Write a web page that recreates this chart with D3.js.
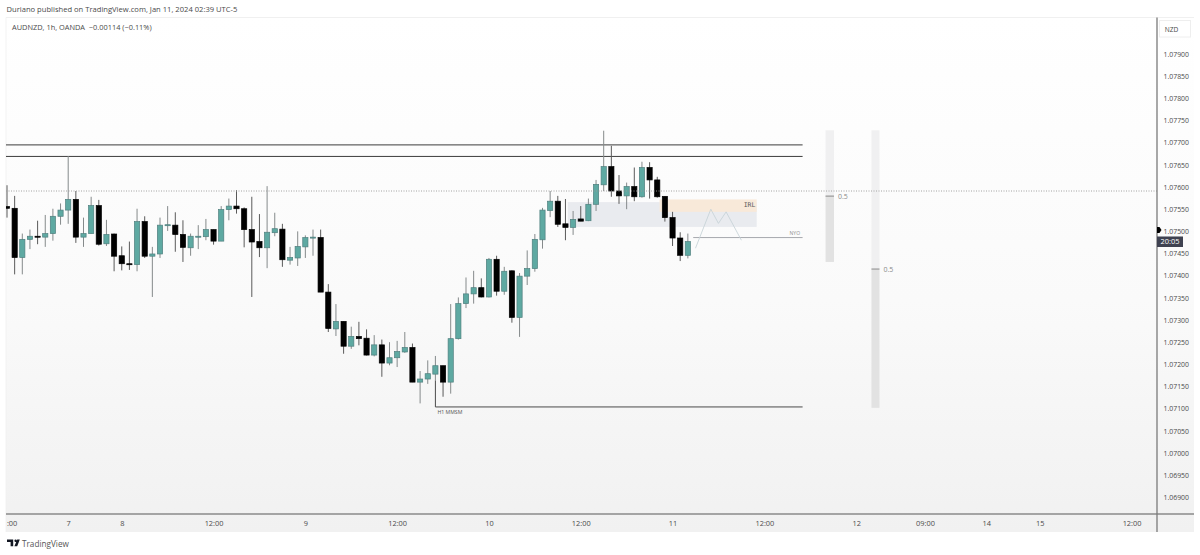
<!DOCTYPE html>
<html>
<head>
<meta charset="utf-8">
<script src="https://d3js.org/d3.v7.min.js"></script>
<style>
	html, body { margin: 0; padding: 0; background: #fff; }
	svg { display: block; }
	text { font-family: "Open Sans", sans-serif; fill: #4a4a4a; white-space: pre; }
	.axis path, .axis line { display: none; }
</style>
</head>
<body>
<div id="chart"></div>
<script>
// AUDNZD 1h candles
const opens = [
	1.07556,1.07552,1.07441,1.07482,1.07489,1.07487,1.07495,1.07534,1.07548,1.07572,
	1.07487,1.07495,1.07558,1.07472,1.07494,1.07445,1.07427,1.07425,1.07522,1.07444,
	1.07449,1.07514,1.07514,1.07493,1.07463,1.07488,1.07488,1.07504,1.07478,1.07549,
	1.07557,1.07551,1.07504,1.07477,1.07463,1.07497,1.07505,1.07435,1.07440,1.07465,
	1.07486,1.07486,1.07363,1.07280,1.07297,1.07241,1.07263,1.07259,1.07221,1.07244,
	1.07203,1.07215,1.07228,1.07238,1.07160,1.07167,1.07178,1.07197,1.07160,1.07258,
	1.07337,1.07359,1.07373,1.07352,1.07437,1.07365,1.07411,1.07306,1.07399,1.07416,
	1.07481,1.07547,1.07568,1.07517,1.07509,1.07528,1.07524,1.07561,1.07605,1.07646,
	1.07591,1.07580,1.07601,1.07578,1.07644,1.07616,1.07579,1.07531,1.07485,1.07446
]
const closes = [
	1.07552,1.07441,1.07482,1.07489,1.07487,1.07495,1.07534,1.07548,1.07572,1.07487,
	1.07495,1.07558,1.07471,1.07493,1.07444,1.07427,1.07425,1.07522,1.07444,1.07449,
	1.07514,1.07515,1.07493,1.07464,1.07489,1.07489,1.07504,1.07478,1.07549,1.07557,
	1.07551,1.07504,1.07476,1.07463,1.07498,1.07506,1.07436,1.07441,1.07466,1.07486,
	1.07487,1.07363,1.07281,1.07297,1.07241,1.07263,1.07258,1.07221,1.07244,1.07203,
	1.07215,1.07229,1.07238,1.07160,1.07167,1.07179,1.07197,1.07160,1.07258,1.07337,
	1.07359,1.07373,1.07352,1.07437,1.07365,1.07410,1.07306,1.07399,1.07416,1.07482,
	1.07548,1.07568,1.07516,1.07509,1.07527,1.07523,1.07561,1.07606,1.07646,1.07591,
	1.07580,1.07601,1.07578,1.07644,1.07616,1.07578,1.07531,1.07485,1.07446,1.07477
]
const highs = [
	1.07604,1.07580,1.07495,1.07504,1.07524,1.07537,1.07551,1.07563,1.07670,1.07591,
	1.07531,1.07578,1.07571,1.07526,1.07495,1.07466,1.07477,1.07551,1.07534,1.07465,
	1.07531,1.07557,1.07543,1.07525,1.07495,1.07514,1.07528,1.07504,1.07557,1.07574,
	1.07593,1.07554,1.07578,1.07539,1.07602,1.07542,1.07517,1.07465,1.07500,1.07491,
	1.07504,1.07504,1.07381,1.07336,1.07297,1.07285,1.07296,1.07279,1.07266,1.07256,
	1.07250,1.07253,1.07273,1.07247,1.07185,1.07209,1.07219,1.07197,1.07336,1.07351,
	1.07396,1.07411,1.07394,1.07440,1.07445,1.07420,1.07412,1.07406,1.07457,1.07494,
	1.07553,1.07591,1.07580,1.07573,1.07546,1.07557,1.07574,1.07616,1.07727,1.07693,
	1.07627,1.07610,1.07644,1.07657,1.07656,1.07623,1.07579,1.07544,1.07498,1.07495
]
const lows = [
	1.07531,1.07403,1.07403,1.07460,1.07471,1.07465,1.07479,1.07515,1.07517,1.07474,
	1.07465,1.07495,1.07468,1.07467,1.07410,1.07412,1.07413,1.07410,1.07440,1.07352,
	1.07440,1.07501,1.07454,1.07431,1.07445,1.07460,1.07480,1.07470,1.07478,1.07525,
	1.07540,1.07464,1.07352,1.07442,1.07417,1.07489,1.07420,1.07425,1.07422,1.07440,
	1.07445,1.07363,1.07273,1.07264,1.07224,1.07235,1.07243,1.07220,1.07218,1.07172,
	1.07198,1.07194,1.07226,1.07160,1.07112,1.07156,1.07164,1.07127,1.07134,1.07256,
	1.07327,1.07337,1.07351,1.07351,1.07355,1.07357,1.07294,1.07262,1.07379,1.07409,
	1.07461,1.07532,1.07510,1.07480,1.07492,1.07523,1.07523,1.07546,1.07591,1.07578,
	1.07562,1.07550,1.07568,1.07576,1.07574,1.07576,1.07522,1.07467,1.07433,1.07439
]

const priceTicks = d3.range(21).map(i => +(1.069 + i * 0.0005).toFixed(5))
const timeTicks = [0.6, 8, 15, 27, 39, 51, 63, 75, 87, 99, 111, 120, 128, 135, 147]
const timeLabels = [':00', '7', '8', '12:00', '9', '12:00', '10', '12:00', '11', '12:00', '12', '09:00', '14', '15', '12:00']

// drawings: index / price pairs
const levelPrices = [1.07695, 1.07669]
const lastLine = 1.07591
const mmsmLevel = 1.07104
const nyoLevel = 1.07486
const zigIndex = [90, 92, 93, 94, 96]
const zigPrice = [1.07462, 1.07550, 1.07518, 1.07544, 1.07480]

const margin = {left: 6, top: 17.5, right: 1157, bottom: 514, end: 1194, foot: 532}

const x = d3.scaleLinear().domain([0, 147]).range([7, 1131.55])
const y = d3.scaleLinear().domain([1.069, 1.079]).range([497.4, 54])

const svg = d3.select('#chart').append('svg')
	.attr('width', 1200)
	.attr('height', 555)

const defs = svg.append('defs')
const grad = defs.append('linearGradient')
	.attr('id', 'bg')
	.attr('x1', 0).attr('x2', 0).attr('y1', 0).attr('y2', 1)
grad.append('stop').attr('offset', '0%').attr('stop-color', '#ffffff')
grad.append('stop').attr('offset', '55%').attr('stop-color', '#fafafa')
grad.append('stop').attr('offset', '100%').attr('stop-color', '#f1f1f1')

defs.append('clipPath').attr('id', 'pane').append('rect')
	.attr('x', margin.left)
	.attr('y', margin.top)
	.attr('width', margin.right - margin.left)
	.attr('height', margin.bottom - margin.top)

// background
svg.append('rect')
	.attr('x', margin.left)
	.attr('y', margin.top)
	.attr('width', margin.end - margin.left)
	.attr('height', margin.foot - margin.top)
	.attr('fill', 'url(#bg)')
svg.append('line')
	.attr('x1', margin.left).attr('x2', margin.end)
	.attr('y1', margin.top).attr('y2', margin.top)
	.attr('stroke', '#ececec')
	.attr('stroke-width', 0.8)
svg.append('line')
	.attr('x1', margin.left).attr('x2', margin.left)
	.attr('y1', margin.top).attr('y2', margin.foot)
	.attr('stroke', '#f0f0f0')
	.attr('stroke-width', 0.8)

const pane = svg.append('g').attr('clip-path', 'url(#pane)')

// zones behind the candles
pane.append('rect')
	.attr('x', x(73.3))
	.attr('y', y(1.07566))
	.attr('width', x(98) - x(73.3))
	.attr('height', y(1.07510) - y(1.07566))
	.attr('fill', '#e9ebef')
pane.append('rect')
	.attr('x', x(85.3))
	.attr('y', y(1.07572))
	.attr('width', x(98) - x(85.3))
	.attr('height', y(1.07544) - y(1.07572))
	.attr('fill', '#f8e9d9')

// 0.5 bars
const fibBars = [
	{start: 107, end: 108.1, top: 1.07728, bottom: 1.07431},
	{start: 113, end: 114.05, top: 1.07728, bottom: 1.07102}
]
fibBars.forEach(b => {
	const mid = (b.top + b.bottom) / 2
	pane.append('rect')
		.attr('x', x(b.start)).attr('width', x(b.end) - x(b.start))
		.attr('y', y(b.top)).attr('height', y(mid) - y(b.top))
		.attr('fill', '#f0f0f1')
	pane.append('rect')
		.attr('x', x(b.start)).attr('width', x(b.end) - x(b.start))
		.attr('y', y(mid)).attr('height', y(b.bottom) - y(mid))
		.attr('fill', '#e2e2e2')
	pane.append('line')
		.attr('x1', x(b.start)).attr('x2', x(b.end))
		.attr('y1', y(mid)).attr('y2', y(mid))
		.attr('stroke', '#9a9a9a')
		.attr('stroke-width', 1.2)
	pane.append('text')
		.attr('x', x(b.end) + 4)
		.attr('y', y(mid) + 2.5)
		.attr('font-size', 7)
		.style('fill', '#8a8a8a')
		.text('0.5')
})

// horizontal levels
pane.selectAll('line.level').data(levelPrices).enter().append('line')
	.attr('class', 'level')
	.attr('x1', margin.left).attr('x2', x(104))
	.attr('y1', d => y(d)).attr('y2', d => y(d))
	.attr('stroke', '#3c3c3c')
	.attr('stroke-width', 1)

// H1 MMSM corner
pane.append('path')
	.attr('d', d3.line()([[x(56), y(lows[56])], [x(56), y(mmsmLevel)], [x(104), y(mmsmLevel)]]))
	.attr('fill', 'none')
	.attr('stroke', '#4a4a4a')
	.attr('stroke-width', 1)

// NYO line
pane.append('line')
	.attr('x1', x(89.7)).attr('x2', x(104))
	.attr('y1', y(nyoLevel)).attr('y2', y(nyoLevel))
	.attr('stroke', '#a6a8ad')
	.attr('stroke-width', 1)

// projected path
pane.append('path')
	.attr('d', d3.line().x(d => x(d)).y((d, i) => y(zigPrice[i]))(zigIndex))
	.attr('fill', 'none')
	.attr('stroke', '#c8d4d8')
	.attr('stroke-width', 0.9)

// candles
const candles = pane.selectAll('g.candle').data(opens).enter().append('g')
	.attr('class', 'candle')

candles.append('line')
	.attr('x1', (d, i) => x(i)).attr('x2', (d, i) => x(i))
	.attr('y1', (d, i) => y(highs[i]))
	.attr('y2', (d, i) => y(lows[i]))
	.attr('stroke', (d, i) => closes[i] < d ? '#5a5a5a' : '#858a8b')
	.attr('stroke-width', 1)

candles.append('rect')
	.attr('x', (d, i) => x(i) - 2.6)
	.attr('width', 5.2)
	.attr('y', (d, i) => y(Math.max(d, closes[i])))
	.attr('height', (d, i) => Math.max(1, Math.abs(y(d) - y(closes[i]))))
	.attr('fill', (d, i) => closes[i] < d ? '#000' : '#5ea9a2')
	.attr('stroke', (d, i) => closes[i] < d ? '#000' : '#4f7f7e')
	.attr('stroke-width', 0.7)

// last price dots
pane.append('line')
	.attr('x1', margin.left).attr('x2', margin.right)
	.attr('y1', y(lastLine)).attr('y2', y(lastLine))
	.attr('stroke', '#9a9a9a')
	.attr('stroke-width', 0.9)
	.attr('stroke-dasharray', '1 1.5')

// drawing labels
pane.append('text')
	.attr('x', x(98) - 13).attr('y', y(1.07566) + 4.5)
	.attr('font-size', 6.5)
	.style('font-family', '"DejaVu Sans Mono", monospace')
	.style('fill', '#5a5a5a')
	.text('IRL')
pane.append('text')
	.attr('x', x(104) - 13).attr('y', y(nyoLevel) - 2.5)
	.attr('font-size', 5)
	.style('fill', '#8d8d8d')
	.text('NYO')
pane.append('text')
	.attr('x', x(56) + 2).attr('y', y(mmsmLevel) + 7.5)
	.attr('font-size', 5.2)
	.style('fill', '#555')
	.text('H1 MMSM')

// axes
svg.append('g')
	.attr('class', 'axis')
	.attr('transform', `translate(${margin.right},0)`)
	.call(d3.axisRight(y).tickValues(priceTicks).tickFormat(d3.format('.5f')).tickSize(0).tickPadding(6.5))
	.selectAll('text')
	.attr('font-size', 6.9)
	.style('font-family', '"Open Sans", sans-serif')

svg.append('g')
	.attr('class', 'axis')
	.attr('transform', `translate(0,${margin.bottom})`)
	.call(d3.axisBottom(x).tickValues(timeTicks).tickFormat((d, i) => timeLabels[i]).tickSize(0).tickPadding(7))
	.selectAll('text')
	.attr('font-size', 7.4)
	.style('font-family', '"Open Sans", sans-serif')

svg.append('line')
	.attr('x1', margin.left).attr('x2', margin.end)
	.attr('y1', margin.bottom).attr('y2', margin.bottom)
	.attr('stroke', '#8a8a8a')
	.attr('stroke-width', 1.3)
svg.append('line')
	.attr('x1', margin.right).attr('x2', margin.right)
	.attr('y1', margin.top).attr('y2', margin.foot)
	.attr('stroke', '#7a7a7a')
	.attr('stroke-width', 1.3)

// NZD button
svg.append('rect')
	.attr('x', 1159.5).attr('y', 20.5)
	.attr('width', 31).attr('height', 16.5)
	.attr('fill', '#fff')
	.attr('stroke', '#eeeeee')
svg.append('text')
	.attr('x', 1171.5).attr('y', 31.5)
	.attr('text-anchor', 'middle')
	.attr('font-size', 6.6)
	.text('NZD')

// price marker + countdown
svg.append('path')
	.attr('d', `M${margin.right},${y(1.07503) - 3}h2.5l2,3l-2,3h-2.5z`)
	.attr('fill', '#000')
svg.append('rect')
	.attr('x', margin.right).attr('y', 236.5)
	.attr('width', 26).attr('height', 10.5)
	.attr('fill', '#3f4251')
svg.append('text')
	.attr('x', margin.right + 13).attr('y', 244.3)
	.attr('text-anchor', 'middle')
	.attr('font-size', 7.4)
	.style('fill', '#fff')
	.text('20:05')

// header
svg.append('text')
	.attr('x', 6.5).attr('y', 11.5)
	.attr('font-size', 7.6)
	.text('Duriano published on TradingView.com, Jan 11, 2024 02:39 UTC-5')
svg.append('text')
	.attr('x', 12).attr('y', 29.8)
	.attr('font-size', 7.4)
	.text('AUDNZD, 1h, OANDA  −0.00114 (−0.11%)')

// footer logo
svg.append('path')
	.attr('d', 'M7,539.5h6.2v6.8h-2.6v-4.2h-3.6z M15.6,539.5a1.2,1.2 0 1,1 0,2.4a1.2,1.2 0 1,1 0,-2.4z M17.2,539.5h2.6l-2.6,6.8h-2.8z')
	.attr('fill', '#131722')
svg.append('text')
	.attr('x', 22).attr('y', 546.5)
	.attr('font-size', 8.2)
	.style('fill', '#555')
	.text('TradingView')
</script>
</body>
</html>
